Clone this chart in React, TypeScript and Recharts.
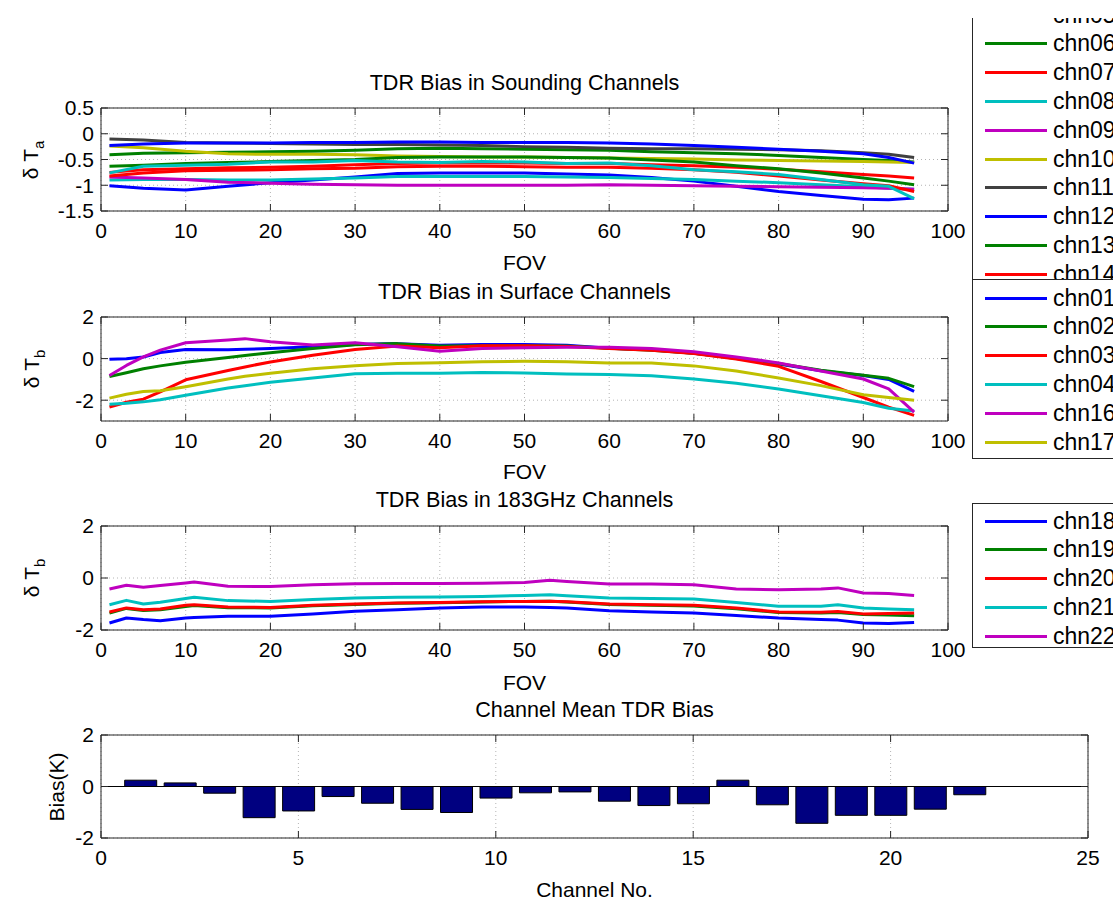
import React from 'react';
import { LineChart, Line, BarChart, Bar, XAxis, YAxis, CartesianGrid, ReferenceArea, ReferenceLine } from 'recharts';

const FONT = '"Liberation Sans", Arial, Helvetica, sans-serif';
const lineColors = ['#0000ff', '#008000', '#ff0000', '#00bfbf', '#bf00bf', '#bfbf00', '#404040'];

// sounding channels (chn05-chn15), bias per FOV
const sndFov = [1, 5, 10, 15, 20, 25, 30, 35, 40, 45, 50, 55, 60, 65, 70, 75, 80, 85, 90, 93, 96];
const chn05 = [-1.01, -1.06, -1.09, -1.02, -0.95, -0.9, -0.84, -0.77, -0.76, -0.76, -0.76, -0.78, -0.8, -0.85, -0.92, -1.02, -1.12, -1.2, -1.27, -1.28, -1.25];
const chn06 = [-0.41, -0.38, -0.37, -0.36, -0.35, -0.34, -0.32, -0.29, -0.28, -0.29, -0.3, -0.31, -0.32, -0.35, -0.37, -0.39, -0.42, -0.46, -0.5, -0.52, -0.55];
const chn07 = [-0.75, -0.7, -0.68, -0.66, -0.65, -0.63, -0.6, -0.58, -0.57, -0.57, -0.57, -0.58, -0.58, -0.6, -0.62, -0.65, -0.69, -0.74, -0.79, -0.82, -0.86];
const chn08 = [-0.9, -0.89, -0.89, -0.9, -0.9, -0.88, -0.86, -0.83, -0.83, -0.83, -0.83, -0.84, -0.85, -0.87, -0.89, -0.92, -0.95, -0.99, -1.03, -1.06, -1.08];
const chn09 = [-0.84, -0.86, -0.89, -0.94, -0.96, -0.98, -0.99, -1.0, -1.0, -1.0, -1.0, -1.0, -0.99, -1.0, -1.01, -1.02, -1.03, -1.04, -1.05, -1.06, -1.08];
const chn10 = [-0.24, -0.27, -0.34, -0.39, -0.4, -0.4, -0.41, -0.43, -0.44, -0.45, -0.45, -0.46, -0.47, -0.48, -0.49, -0.51, -0.52, -0.53, -0.54, -0.55, -0.56];
const chn11 = [-0.1, -0.12, -0.17, -0.18, -0.19, -0.2, -0.21, -0.21, -0.22, -0.23, -0.25, -0.26, -0.28, -0.29, -0.29, -0.3, -0.31, -0.33, -0.37, -0.4, -0.46];
const chn12 = [-0.23, -0.2, -0.18, -0.18, -0.18, -0.17, -0.17, -0.16, -0.16, -0.17, -0.17, -0.17, -0.18, -0.2, -0.23, -0.26, -0.3, -0.34, -0.39, -0.46, -0.57];
const chn13 = [-0.63, -0.61, -0.58, -0.56, -0.54, -0.52, -0.5, -0.46, -0.45, -0.45, -0.45, -0.46, -0.47, -0.51, -0.55, -0.62, -0.68, -0.76, -0.86, -0.92, -0.99];
const chn14 = [-0.82, -0.76, -0.72, -0.71, -0.7, -0.68, -0.67, -0.64, -0.63, -0.63, -0.64, -0.65, -0.65, -0.67, -0.7, -0.75, -0.82, -0.9, -0.97, -1.01, -1.12];
const chn15 = [-0.76, -0.63, -0.61, -0.59, -0.55, -0.55, -0.52, -0.55, -0.56, -0.54, -0.55, -0.58, -0.57, -0.62, -0.7, -0.74, -0.79, -0.89, -0.99, -1.02, -1.26];
const sndNames = ['chn05', 'chn06', 'chn07', 'chn08', 'chn09', 'chn10', 'chn11', 'chn12', 'chn13', 'chn14', 'chn15'];
const sndValues = [chn05, chn06, chn07, chn08, chn09, chn10, chn11, chn12, chn13, chn14, chn15];

// surface channels
const sfcFov = [1, 3, 5, 7, 10, 15, 17, 20, 25, 30, 35, 40, 45, 50, 55, 60, 65, 70, 75, 80, 85, 90, 93, 96];
const chn01 = [-0.03, -0.01, 0.08, 0.29, 0.44, 0.42, 0.45, 0.49, 0.57, 0.68, 0.72, 0.64, 0.68, 0.68, 0.64, 0.5, 0.42, 0.26, 0.02, -0.26, -0.58, -0.81, -1.0, -1.58];
const chn02 = [-0.86, -0.68, -0.49, -0.35, -0.18, 0.05, 0.15, 0.28, 0.49, 0.66, 0.72, 0.6, 0.62, 0.62, 0.6, 0.5, 0.4, 0.26, 0.0, -0.24, -0.56, -0.8, -0.95, -1.35];
const chn03 = [-2.33, -2.1, -1.95, -1.6, -1.02, -0.57, -0.4, -0.16, 0.16, 0.44, 0.6, 0.52, 0.62, 0.62, 0.58, 0.48, 0.4, 0.24, -0.02, -0.37, -1.1, -1.87, -2.33, -2.73];
const chn04 = [-2.2, -2.15, -2.08, -1.98, -1.76, -1.41, -1.3, -1.14, -0.93, -0.73, -0.7, -0.7, -0.67, -0.69, -0.74, -0.76, -0.82, -0.98, -1.19, -1.46, -1.79, -2.11, -2.39, -2.52];
const chn16 = [-0.81, -0.33, 0.08, 0.41, 0.76, 0.9, 0.96, 0.81, 0.65, 0.76, 0.57, 0.35, 0.49, 0.52, 0.54, 0.54, 0.48, 0.33, 0.08, -0.21, -0.6, -0.98, -1.46, -2.57];
const chn17 = [-1.9, -1.71, -1.58, -1.55, -1.35, -0.98, -0.85, -0.7, -0.49, -0.34, -0.24, -0.2, -0.15, -0.13, -0.15, -0.21, -0.21, -0.35, -0.6, -0.93, -1.3, -1.74, -1.87, -2.0];
const sfcNames = ['chn01', 'chn02', 'chn03', 'chn04', 'chn16', 'chn17'];
const sfcValues = [chn01, chn02, chn03, chn04, chn16, chn17];

// 183GHz channels
const mwFov = [1, 3, 5, 7, 10, 11, 15, 20, 25, 30, 35, 40, 45, 50, 53, 55, 60, 65, 70, 75, 80, 85, 87, 90, 93, 96];
const chn18 = [-1.73, -1.54, -1.6, -1.64, -1.54, -1.52, -1.47, -1.47, -1.38, -1.28, -1.22, -1.15, -1.12, -1.12, -1.13, -1.15, -1.26, -1.31, -1.35, -1.44, -1.54, -1.6, -1.62, -1.73, -1.75, -1.71];
const chn19 = [-1.35, -1.17, -1.25, -1.22, -1.1, -1.06, -1.14, -1.15, -1.07, -1.02, -0.97, -0.95, -0.92, -0.9, -0.89, -0.92, -1.02, -1.05, -1.08, -1.18, -1.33, -1.35, -1.33, -1.4, -1.42, -1.45];
const chn20 = [-1.31, -1.15, -1.22, -1.19, -1.05, -1.03, -1.12, -1.13, -1.05, -1.0, -0.96, -0.94, -0.91, -0.9, -0.89, -0.91, -1.0, -1.03, -1.05, -1.15, -1.31, -1.32, -1.29, -1.38, -1.37, -1.35];
const chn21 = [-1.03, -0.86, -1.0, -0.93, -0.79, -0.74, -0.87, -0.9, -0.83, -0.77, -0.74, -0.73, -0.71, -0.67, -0.64, -0.68, -0.77, -0.79, -0.81, -0.94, -1.09, -1.09, -1.03, -1.15, -1.19, -1.22];
const chn22 = [-0.42, -0.28, -0.36, -0.29, -0.19, -0.15, -0.32, -0.33, -0.26, -0.22, -0.21, -0.21, -0.2, -0.17, -0.09, -0.13, -0.23, -0.23, -0.26, -0.42, -0.45, -0.42, -0.38, -0.58, -0.6, -0.67];
const mwNames = ['chn18', 'chn19', 'chn20', 'chn21', 'chn22'];
const mwValues = [chn18, chn19, chn20, chn21, chn22];

// channel mean bias
const channelNo = [1, 2, 3, 4, 5, 6, 7, 8, 9, 10, 11, 12, 13, 14, 15, 16, 17, 18, 19, 20, 21, 22];
const meanBias = [0.245, 0.14, -0.26, -1.21, -0.95, -0.39, -0.65, -0.89, -1.01, -0.45, -0.245, -0.21, -0.57, -0.74, -0.67, 0.245, -0.71, -1.43, -1.12, -1.12, -0.88, -0.32];

const fovTicks = [0, 10, 20, 30, 40, 50, 60, 70, 80, 90, 100];
const channelTicks = [0, 5, 10, 15, 20, 25];

function buildRows(fov: number[], names: string[], values: number[][]) {
  return fov.map((f, i) => {
    const row: Record<string, number> = { fov: f };
    names.forEach((n, k) => {
      row[n] = values[k][i];
    });
    return row;
  });
}

const AXIS = '#262626';
const TICK_LEN = 7;
const X_MARGIN = 12;
const Y_MARGIN = 7;
const TOP_PAD = 18;

// ticks point inward on both sides of the box, like the old matlab axes
function makeXTick(plotH: number) {
  return (props: any) => {
    const { x, y, payload } = props;
    const base = y - X_MARGIN;
    return (
      <g>
        <line x1={x} x2={x} y1={base} y2={base - TICK_LEN} stroke={AXIS} />
        <line x1={x} x2={x} y1={base - plotH} y2={base - plotH + TICK_LEN} stroke={AXIS} />
        <text x={x} y={y} dy="0.71em" textAnchor="middle" fontSize={21} fontFamily={FONT} fill="#000">
          {payload.value}
        </text>
      </g>
    );
  };
}

function makeYTick(plotW: number) {
  return (props: any) => {
    const { x, y, payload } = props;
    const base = x + Y_MARGIN;
    return (
      <g>
        <line x1={base} x2={base + TICK_LEN} y1={y} y2={y} stroke={AXIS} />
        <line x1={base + plotW} x2={base + plotW - TICK_LEN} y1={y} y2={y} stroke={AXIS} />
        <text x={x} y={y} dy="0.355em" textAnchor="end" fontSize={21} fontFamily={FONT} fill="#000">
          {payload.value}
        </text>
      </g>
    );
  };
}

const textStyle: React.CSSProperties = {
  position: 'absolute',
  fontFamily: FONT,
  fontSize: 21,
  lineHeight: 1,
  color: '#000',
  whiteSpace: 'nowrap',
  transform: 'translate(-50%, -50%)',
};

function Caption({ x, y, size = 21, children }: { x: number; y: number; size?: number; children: React.ReactNode }) {
  return <div style={{ ...textStyle, fontSize: size, left: x, top: y }}>{children}</div>;
}

function SideLabel({ x, y, children }: { x: number; y: number; children: React.ReactNode }) {
  return (
    <div style={{ ...textStyle, left: x, top: y, transform: 'translate(-50%, -50%) rotate(-90deg)' }}>{children}</div>
  );
}

function DeltaT({ sub }: { sub: string }) {
  return (
    <span>
      δ T<span style={{ fontSize: 15, position: 'relative', top: 6 }}>{sub}</span>
    </span>
  );
}

interface PanelProps {
  top: number;
  plotH: number;
  rows: Record<string, number>[];
  names: string[];
  domain: [number, number];
  yTicks: number[];
}

const PLOT_LEFT = 101;
const LINE_PLOT_W = 847;

function LinePanel({ top, plotH, rows, names, domain, yTicks }: PanelProps) {
  const height = TOP_PAD + plotH + 40;
  return (
    <div style={{ position: 'absolute', left: 0, top: top - TOP_PAD }}>
      <LineChart
        width={PLOT_LEFT + LINE_PLOT_W + 25}
        height={height}
        data={rows}
        margin={{ top: TOP_PAD, right: 25, bottom: 0, left: 0 }}
      >
        <CartesianGrid strokeDasharray="1 3" stroke="#b4b4b4" />
        <XAxis
          dataKey="fov"
          type="number"
          domain={[0, 100]}
          ticks={fovTicks}
          interval={0}
          height={40}
          axisLine={false}
          tickLine={false}
          tickSize={0}
          tickMargin={X_MARGIN}
          tick={makeXTick(plotH)}
        />
        <YAxis
          type="number"
          domain={domain}
          ticks={yTicks}
          interval={0}
          width={PLOT_LEFT}
          axisLine={false}
          tickLine={false}
          tickSize={0}
          tickMargin={Y_MARGIN}
          tick={makeYTick(LINE_PLOT_W)}
        />
        {names.map((n, k) => (
          <Line
            key={n}
            dataKey={n}
            type="linear"
            stroke={lineColors[k % lineColors.length]}
            strokeWidth={3}
            strokeLinejoin="round"
            dot={false}
            isAnimationActive={false}
          />
        ))}
        <ReferenceArea x1={0} x2={100} y1={domain[0]} y2={domain[1]} fill="none" stroke={AXIS} strokeWidth={1} />
      </LineChart>
    </div>
  );
}

function LegendBox({ top, height, names, padTop }: { top: number; height: number; names: string[]; padTop: number }) {
  return (
    <div
      style={{
        position: 'absolute',
        left: 972,
        top,
        width: 220,
        height,
        boxSizing: 'border-box',
        border: `1px solid ${AXIS}`,
        background: '#fff',
      }}
    >
      {names.map((n, i) => (
        <div
          key={n}
          style={{
            position: 'absolute',
            left: 12,
            top: padTop + i * 28.8 - 15,
            height: 30,
            display: 'flex',
            alignItems: 'center',
          }}
        >
          <div style={{ width: 62, height: 3, background: lineColors[i % lineColors.length] }} />
          <span style={{ marginLeft: 6, fontFamily: FONT, fontSize: 23, lineHeight: 1 }}>{n}</span>
        </div>
      ))}
    </div>
  );
}

const sndRows = buildRows(sndFov, sndNames, sndValues);
const sfcRows = buildRows(sfcFov, sfcNames, sfcValues);
const mwRows = buildRows(mwFov, mwNames, mwValues);
const barRows = channelNo.map((c, i) => ({ ch: c, bias: meanBias[i] }));

const BAR_PLOT_W = 987;
const BAR_PLOT_H = 103;
const barCenter = PLOT_LEFT + BAR_PLOT_W / 2;

export default function App() {
  return (
    <div style={{ position: 'absolute', left: 0, top: 0, width: 1113, height: 902, overflow: 'hidden', background: '#fff' }}>
      <Caption x={524.5} y={83} size={21.6}>TDR Bias in Sounding Channels</Caption>
      <LinePanel top={108} plotH={103} rows={sndRows} names={sndNames} domain={[-1.5, 0.5]} yTicks={[-1.5, -1, -0.5, 0, 0.5]} />
      <Caption x={524.5} y={262}>FOV</Caption>
      <SideLabel x={30} y={160}>
        <DeltaT sub="a" />
      </SideLabel>

      <Caption x={524.5} y={292} size={21.6}>TDR Bias in Surface Channels</Caption>
      <LinePanel top={317} plotH={104} rows={sfcRows} names={sfcNames} domain={[-3, 2]} yTicks={[-2, 0, 2]} />
      <Caption x={524.5} y={471}>FOV</Caption>
      <SideLabel x={31} y={369}>
        <DeltaT sub="b" />
      </SideLabel>

      <Caption x={524.5} y={500} size={21.6}>TDR Bias in 183GHz Channels</Caption>
      <LinePanel top={526} plotH={104} rows={mwRows} names={mwNames} domain={[-2, 2]} yTicks={[-2, 0, 2]} />
      <Caption x={524.5} y={682}>FOV</Caption>
      <SideLabel x={31} y={578}>
        <DeltaT sub="b" />
      </SideLabel>

      <Caption x={barCenter} y={710} size={21.6}>Channel Mean TDR Bias</Caption>
      <div style={{ position: 'absolute', left: 0, top: 735 - TOP_PAD }}>
        <BarChart
          width={PLOT_LEFT + BAR_PLOT_W + 25}
          height={TOP_PAD + BAR_PLOT_H + 40}
          data={barRows}
          margin={{ top: TOP_PAD, right: 25, bottom: 0, left: 0 }}
          barCategoryGap="10%"
        >
          <CartesianGrid strokeDasharray="1 3" stroke="#b4b4b4" />
          <XAxis
            dataKey="ch"
            type="number"
            domain={[0, 25]}
            ticks={channelTicks}
            interval={0}
            height={40}
            axisLine={false}
            tickLine={false}
            tickSize={0}
            tickMargin={X_MARGIN}
            tick={makeXTick(BAR_PLOT_H)}
          />
          <YAxis
            type="number"
            domain={[-2, 2]}
            ticks={[-2, 0, 2]}
            interval={0}
            width={PLOT_LEFT}
            axisLine={false}
            tickLine={false}
            tickSize={0}
            tickMargin={Y_MARGIN}
            tick={makeYTick(BAR_PLOT_W)}
          />
          <Bar dataKey="bias" fill="#000080" stroke="#000" strokeWidth={1} isAnimationActive={false} />
          <ReferenceLine y={0} stroke="#000" strokeWidth={1} />
          <ReferenceArea x1={0} x2={25} y1={-2} y2={2} fill="none" stroke={AXIS} strokeWidth={1} />
        </BarChart>
      </div>
      <Caption x={barCenter} y={889}>Channel No.</Caption>
      <SideLabel x={56} y={787}>Bias(K)</SideLabel>

      {/* legends, the first one runs off the top edge */}
      <div style={{ position: 'absolute', left: 0, top: 18, width: 1113, height: 300, overflow: 'hidden' }}>
        <div style={{ position: 'absolute', left: 0, top: -21 }}>
          <LegendBox top={0} height={340} names={sndNames} padTop={17} />
        </div>
      </div>
      <LegendBox top={279} height={180} names={sfcNames} padTop={18} />
      <LegendBox top={503} height={145} names={mwNames} padTop={17} />
    </div>
  );
}
